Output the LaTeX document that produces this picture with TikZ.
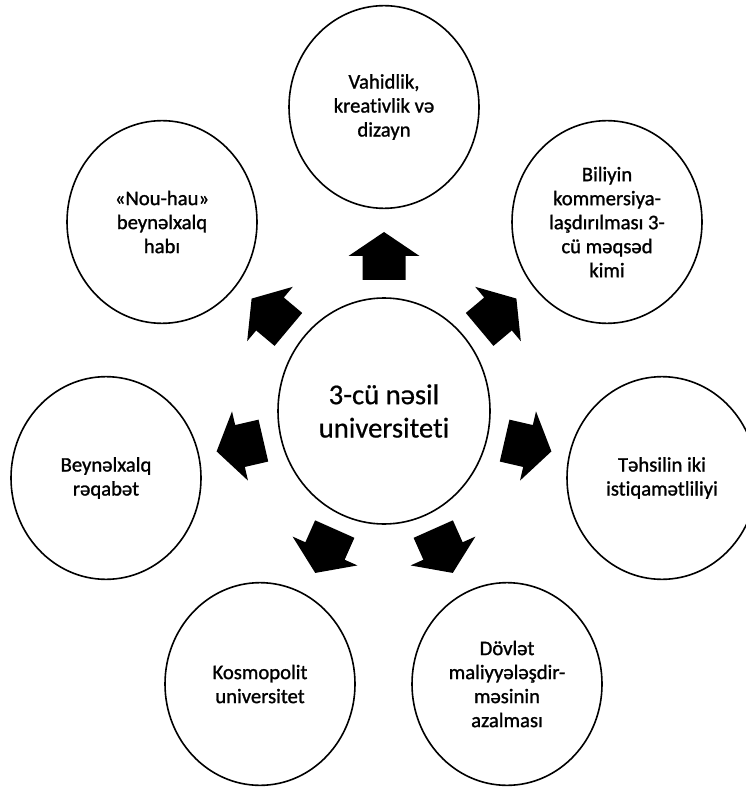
\documentclass[tikz,border=0pt]{standalone}
\usepackage{fontspec}
\setmainfont{Carlito}[Ligatures=NoCommon]
\newfontfamily\outerfont{Carlito}[Ligatures=NoCommon,FakeBold=1.2]
\newfontfamily\hubfont{Carlito}[Ligatures=NoCommon,FakeBold=0.6]
\usetikzlibrary{shapes.geometric}
\tikzset{
  outer/.style={ellipse, draw=black, line width=1.2pt, minimum width=142.5pt, minimum height=152pt, inner sep=0pt, align=center, font=\outerfont\fontsize{15.5pt}{18pt}\selectfont},
  hub/.style={ellipse, draw=black, line width=1.2pt, minimum width=159pt, minimum height=169.5pt, inner sep=0pt, align=center, font=\hubfont\fontsize{21.5pt}{25pt}\selectfont},
  blockarrow/.style={fill=black}
}
\newcommand\blockarr[2]{\fill[blockarrow,shift={#1},rotate=#2] (24,0)--(0,35.5)--(0,21.5)--(-24,21.5)--(-24,-21.5)--(0,-21.5)--(0,-35.5)--cycle;}
\begin{document}
\begin{tikzpicture}[x=0.75pt,y=0.75pt]
\useasboundingbox (0,0) rectangle (745,-787);
\node[hub] (c) at (384,-411) {3-cü nəsil\\universiteti};
\node[outer] (t) at (384,-107) {Vahidlik,\\kreativlik və\\dizayn};
\node[outer] (ul) at (162,-222) {«Nou-hau»\\beynəlxalq\\habı};
\node[outer] (ur) at (607,-222) {Biliyin\\kommersiya-\\laşdırılması 3-\\cü məqsəd\\kimi};
\node[outer] (l) at (106,-478) {Beynəlxalq\\rəqabət};
\node[outer] (r) at (662,-478) {Təhsilin iki\\istiqamətliliyi};
\node[outer] (ll) at (260,-684) {Kosmopolit\\universitet};
\node[outer] (lr) at (507,-684) {Dövlət\\maliyyələşdir-\\məsinin\\azalması};
\blockarr{(384,-256)}{90}
\blockarr{(270,-314)}{140}
\blockarr{(498,-314)}{40}
\blockarr{(240,-446)}{193}
\blockarr{(528,-446)}{-13}
\blockarr{(325,-551)}{-114}
\blockarr{(443,-551)}{-66}
\end{tikzpicture}
\end{document}
